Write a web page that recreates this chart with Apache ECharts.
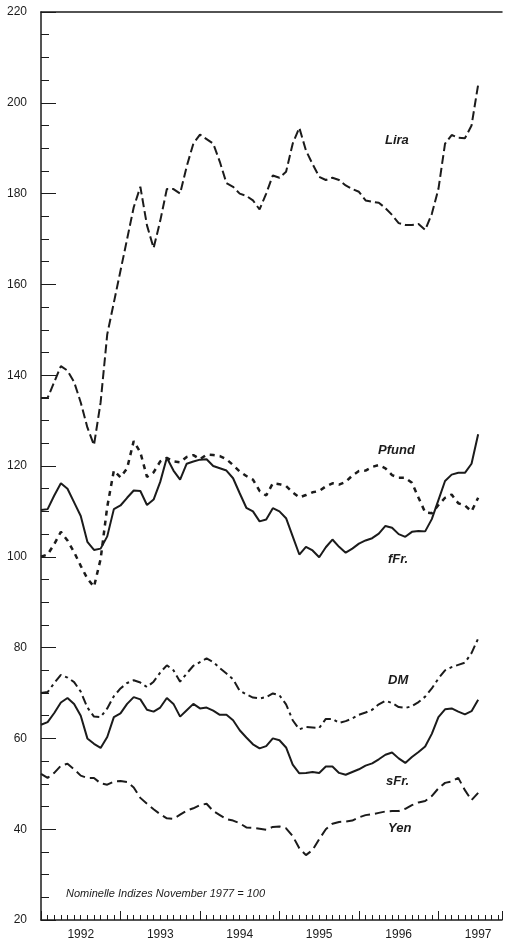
<!DOCTYPE html>
<html>
<head>
<meta charset="utf-8">
<script src="https://cdn.jsdelivr.net/npm/echarts@6/dist/echarts.min.js"></script>
<style>
  html, body { margin: 0; padding: 0; background: #fff; }
  #chart { width: 505px; height: 946px; }
</style>
</head>
<body>
<div id="chart"></div>
<script>
// monatliche Werte, Januar 1992 = Monat 0
var years = [1992, 1993, 1994, 1995, 1996, 1997];

var lira = [135, 135, 138.5, 142, 141, 138.5, 134, 128.5, 124.6, 134, 149, 156, 163, 170, 177, 181.5,
  173, 168, 174, 181, 181, 180, 186, 191, 193, 192, 191, 187, 182.3, 181.5, 180, 179.5,
  178.5, 176.5, 180, 184, 183.5, 184.8, 191, 194.5, 189.5, 186.5, 183.7, 183, 183.5, 183,
  181.8, 181, 180.4, 178.5, 178.2, 178, 176.8, 175.3, 173.5, 173.1, 173.1, 173.3, 172,
  175.5, 181, 191, 192.9, 192.3, 192.2, 195, 204];

var pfund = [100, 100.5, 102.8, 105.5, 103.6, 101, 98, 95.2, 93.4, 99.5, 111, 119, 117.5, 119.5,
  125.5, 123, 117.6, 118.6, 121, 121.8, 121, 120.8, 122, 122.4, 121.5, 122.5, 122.4, 122.2,
  121.5, 120.2, 118.8, 117.8, 117, 114.5, 113.5, 116.2, 116, 115.6, 114.2, 113.1, 113.6,
  114.2, 114.5, 115.5, 116.2, 115.9, 116.5, 117.9, 118.9, 119, 119.8, 120.2, 119.5, 118,
  117.4, 117.4, 116.3, 113, 109.8, 109.6, 111.4, 113, 113.7, 111.8, 111.3, 110, 113];

var ffr = [110.3, 110.5, 113.5, 116.2, 115, 112, 109, 103.3, 101.5, 101.8, 104.5, 110.5, 111.3,
  113, 114.6, 114.5, 111.4, 112.6, 116.5, 121.8, 119, 117, 120.5, 121, 121.4, 121.5, 120,
  119.5, 119, 117.3, 114, 110.8, 110, 107.8, 108.2, 110.7, 110, 108.5, 104.5, 100.5, 102.2,
  101.4, 99.9, 102.1, 103.8, 102.2, 100.9, 101.8, 102.9, 103.6, 104.1, 105.1, 106.8, 106.4,
  105, 104.4, 105.5, 105.7, 105.6, 108.3, 112.5, 116.7, 118.1, 118.5, 118.5, 120.5, 127];

var dm = [70, 70.2, 72.2, 74, 73.4, 72.4, 70.3, 66.8, 64.8, 64.7, 66.6, 69.3, 71, 72.2, 72.8,
  72.3, 71.3, 72.5, 74.5, 76.1, 75, 72.5, 74.3, 76, 76.8, 77.6, 76.8, 75.5, 74.3, 73, 70.5,
  69.7, 69, 68.8, 69.1, 69.9, 69.5, 67.5, 64, 62, 62.5, 62.4, 62.3, 64.3, 64.3, 63.4, 63.8,
  64.4, 65.2, 65.7, 66.3, 67.5, 68.3, 67.8, 66.9, 66.7, 67.1, 68, 69.2, 71, 73.2, 75, 75.7,
  76.2, 76.7, 78.8, 82];

var sfr = [63, 63.6, 65.6, 67.9, 68.9, 67.6, 65, 60, 58.8, 57.9, 60.3, 64.7, 65.5, 67.6, 69.1,
  68.6, 66.3, 65.9, 66.8, 68.9, 67.6, 64.8, 66.2, 67.6, 66.6, 66.8, 66.1, 65.2, 65.2, 64,
  61.8, 60.2, 58.7, 57.8, 58.3, 60, 59.6, 58, 54.2, 52.3, 52.4, 52.6, 52.4, 53.8, 53.8, 52.4,
  52, 52.6, 53.2, 54, 54.5, 55.4, 56.4, 56.9, 55.6, 54.6, 55.9, 57, 58.2, 61, 64.7, 66.4,
  66.6, 65.9, 65.3, 66, 68.5];

var yen = [52.2, 51.3, 52.4, 54, 54.4, 53.2, 51.8, 51.3, 51.3, 50.1, 49.8, 50.5, 50.6, 50.4,
  49.2, 46.9, 45.6, 44.4, 43.3, 42.4, 42.3, 43.2, 44.1, 44.6, 45.3, 45.6, 44, 43.1, 42.2,
  41.9, 41.3, 40.4, 40.3, 40.1, 39.9, 40.5, 40.6, 40.2, 38.5, 35.8, 34.3, 35.4, 37.8, 40,
  41.2, 41.6, 41.7, 41.9, 42.6, 43.1, 43.3, 43.6, 43.9, 44, 44, 44.5, 45.3, 45.9, 46.2,
  47.3, 49, 50.2, 50.5, 51.3, 48.6, 46.4, 48];

var ink = '#1b1b1b';
var fontFam = '"Liberation Sans", Arial, Helvetica, sans-serif';
var xMax = 69.6;

function pairs (arr) {
  return arr.map(function (v, i) { return [i, v]; });
}

function line (name, arr, width, dash) {
  return {
    name: name,
    type: 'line',
    data: pairs(arr),
    symbol: 'none',
    smooth: false,
    animation: false,
    lineStyle: { color: ink, width: width, type: dash }
  };
}

var chart = echarts.init(document.getElementById('chart'), null, { renderer: 'canvas' });

chart.setOption({
  backgroundColor: '#fff',
  animation: false,
  grid: { left: 41, right: 0, top: 12, bottom: 26, containLabel: false },
  xAxis: [{
    type: 'value', min: 0, max: xMax, interval: 12, position: 'bottom',
    axisLine: { show: true, lineStyle: { color: ink, width: 1.5 } },
    axisTick: { show: true, inside: true, length: 9, lineStyle: { color: ink, width: 1 } },
    minorTick: { show: true, splitNumber: 12, length: 5, lineStyle: { color: ink, width: 1 } },
    axisLabel: { show: false },
    splitLine: { show: false }
  }, {
    type: 'value', min: 0, max: xMax, interval: 6, position: 'bottom',
    axisLine: { show: false },
    axisTick: { show: false },
    splitLine: { show: false },
    axisLabel: {
      show: true, margin: 9, color: ink, fontSize: 12, fontFamily: fontFam,
      formatter: function (v) {
        if (v % 12 === 6) return String(years[(v - 6) / 12]);
        return '';
      }
    }
  }, {
    type: 'value', min: 0, max: xMax, position: 'top',
    axisLine: { show: true, lineStyle: { color: ink, width: 1.5 } },
    axisTick: { show: false },
    axisLabel: { show: false },
    splitLine: { show: false }
  }],
  yAxis: {
    type: 'value', min: 20, max: 220, interval: 20,
    axisLine: { show: true, lineStyle: { color: ink, width: 1.5 } },
    axisTick: { show: true, inside: true, length: 15, lineStyle: { color: ink, width: 1 } },
    minorTick: { show: true, splitNumber: 4, length: 8, lineStyle: { color: ink, width: 1 } },
    axisLabel: { margin: 14, color: ink, fontSize: 12, fontFamily: fontFam },
    splitLine: { show: false }
  },
  series: [
    line('Lira', lira, 2, [9, 4]),
    line('Pfund', pfund, 2.5, [5, 5]),
    line('fFr.', ffr, 2, 'solid'),
    line('DM', dm, 2, [9, 4, 3, 4]),
    line('sFr.', sfr, 2, 'solid'),
    line('Yen', yen, 2, [10, 5])
  ],
  graphic: [
    { type: 'text', left: 385, top: 134, style: { text: 'Lira', font: 'italic bold 13px ' + fontFam, fill: ink } },
    { type: 'text', left: 378, top: 444, style: { text: 'Pfund', font: 'italic bold 13px ' + fontFam, fill: ink } },
    { type: 'text', left: 388, top: 553, style: { text: 'fFr.', font: 'italic bold 13px ' + fontFam, fill: ink } },
    { type: 'text', left: 388, top: 674, style: { text: 'DM', font: 'italic bold 13px ' + fontFam, fill: ink } },
    { type: 'text', left: 386, top: 775, style: { text: 'sFr.', font: 'italic bold 13px ' + fontFam, fill: ink } },
    { type: 'text', left: 388, top: 822, style: { text: 'Yen', font: 'italic bold 13px ' + fontFam, fill: ink } },
    { type: 'text', left: 66, top: 888, style: { text: 'Nominelle Indizes November 1977 = 100', font: 'italic 11px ' + fontFam, fill: ink } }
  ]
});
</script>
</body>
</html>
